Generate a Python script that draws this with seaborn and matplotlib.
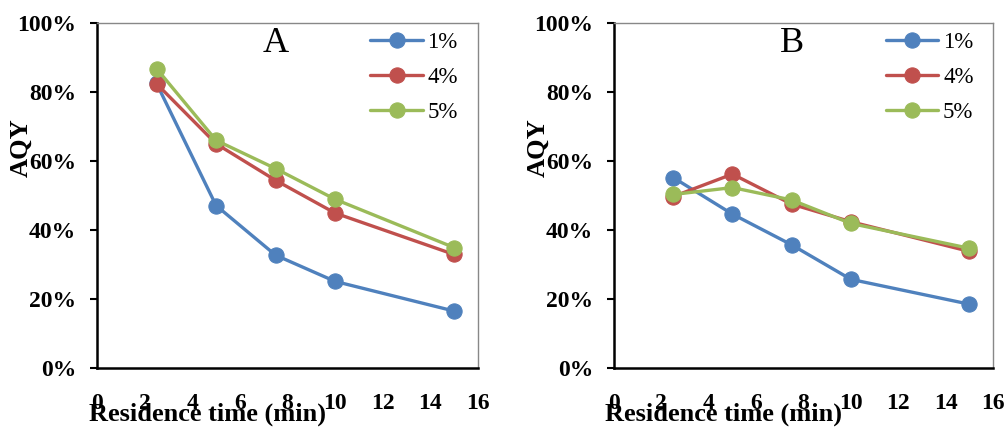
import pandas as pd
import matplotlib.pyplot as plt
import matplotlib.ticker as mtick
import seaborn as sns

sns.set_style("white")
plt.rcParams['font.family'] = ['Liberation Serif', 'DejaVu Serif']
plt.rcParams['text.color'] = 'black'
plt.rcParams['axes.labelcolor'] = 'black'
plt.rcParams['xtick.color'] = 'black'
plt.rcParams['ytick.color'] = 'black'

# ----------------------------------
# data
# ----------------------------------
time_min = [2.5, 5, 7.5, 10, 15]
series = ["1%", "4%", "5%"]
colors = ["#4F81BD", "#C0504D", "#9BBB59"]

aqy_a_1 = [0.825, 0.471, 0.327, 0.251, 0.165]
aqy_a_4 = [0.824, 0.650, 0.544, 0.449, 0.329]
aqy_a_5 = [0.868, 0.660, 0.578, 0.489, 0.349]

aqy_b_1 = [0.552, 0.446, 0.357, 0.257, 0.185]
aqy_b_4 = [0.497, 0.562, 0.475, 0.424, 0.338]
aqy_b_5 = [0.503, 0.523, 0.487, 0.419, 0.347]

panels = [("A", [aqy_a_1, aqy_a_4, aqy_a_5]),
          ("B", [aqy_b_1, aqy_b_4, aqy_b_5])]

fig = plt.figure(figsize=(10.08, 4.28), dpi=100)
axes = [fig.add_axes([97/1008, 1-368/428, 381/1008, 345/428]),
        fig.add_axes([614/1008, 1-368/428, 379/1008, 345/428])]

for ax, (letter, vals) in zip(axes, panels):
    for name, col, y in zip(series, colors, vals):
        df = pd.DataFrame({"t": time_min, "aqy": y})
        sns.lineplot(data=df, x="t", y="aqy", ax=ax, color=col, lw=2.4,
                     marker="o", markersize=11, markeredgecolor=col,
                     label=name)

    ax.set_xlim(0, 16)
    ax.set_ylim(0, 1)
    ax.set_xticks(range(0, 17, 2))
    ax.set_yticks([0, 0.2, 0.4, 0.6, 0.8, 1.0])
    ax.yaxis.set_major_formatter(mtick.PercentFormatter(1.0, decimals=0))
    for lab in ax.get_xticklabels() + ax.get_yticklabels():
        lab.set_fontweight("bold")
        lab.set_fontsize(17)
    ax.tick_params(axis="x", length=0, pad=18)
    ax.tick_params(axis="y", length=5, width=1.5, direction="out", pad=10, left=True)

    for s in ["left", "bottom"]:
        ax.spines[s].set_color("black")
        ax.spines[s].set_linewidth(1.8)
    for s in ["top", "right"]:
        ax.spines[s].set_color("#888888")
        ax.spines[s].set_linewidth(1.0)

    ax.set_xlabel("Residence time (min)", fontsize=19, fontweight="bold")
    ax.set_ylabel("AQY", fontsize=19, fontweight="bold")
    ax.xaxis.set_label_coords(0.289, -0.1)
    ax.yaxis.set_label_coords(-0.17, 0.64)

    ax.text(7.5, 0.94, letter, fontsize=26, ha="center", va="center")

    ax.legend(loc="upper left", bbox_to_anchor=(0.717, 0.975), frameon=False,
              fontsize=16.5, handlelength=2.3, handletextpad=0.2,
              labelspacing=0.62, borderpad=0, borderaxespad=0)

fig.savefig("out.png", dpi=100)
